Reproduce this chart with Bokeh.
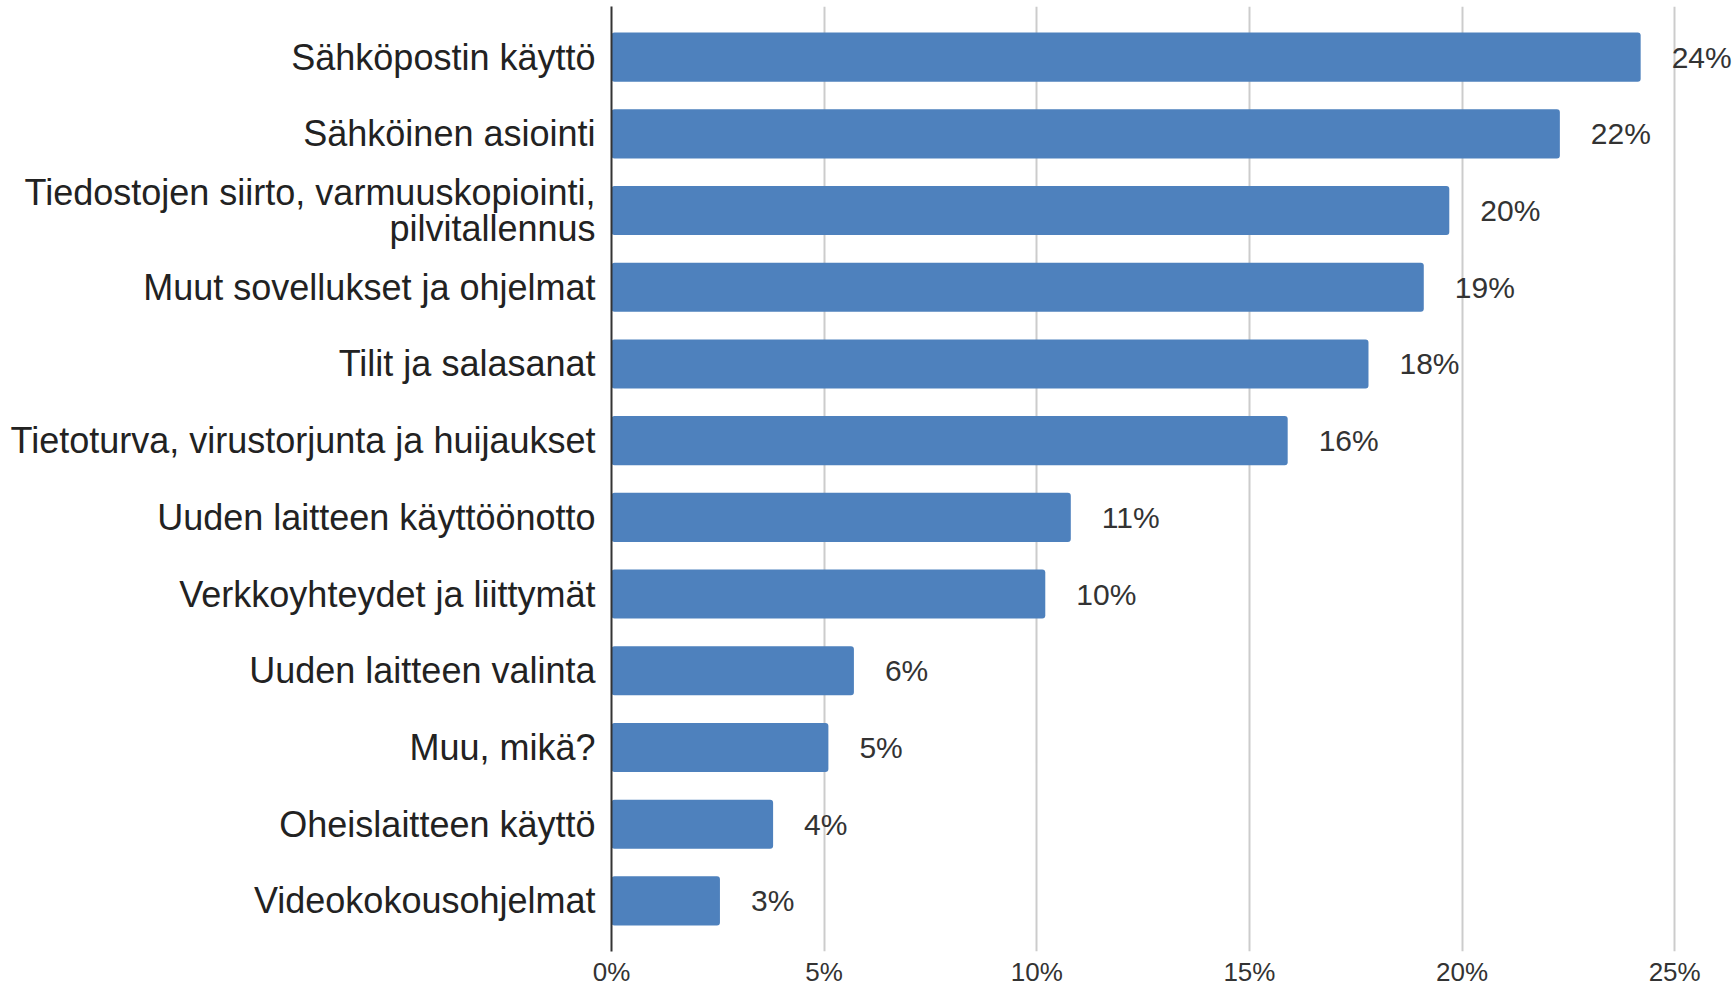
from bokeh.plotting import figure
from bokeh.models import FactorRange, Range1d, FixedTicker, PrintfTickFormatter, ColumnDataSource
from bokeh.core.properties import value
from bokeh.embed import file_html
from bokeh.resources import INLINE

categories = [
    "Sähköpostin käyttö",
    "Sähköinen asiointi",
    "Tiedostojen siirto, varmuuskopiointi,\npilvitallennus",
    "Muut sovellukset ja ohjelmat",
    "Tilit ja salasanat",
    "Tietoturva, virustorjunta ja huijaukset",
    "Uuden laitteen käyttöönotto",
    "Verkkoyhteydet ja liittymät",
    "Uuden laitteen valinta",
    "Muu, mikä?",
    "Oheislaitteen käyttö",
    "Videokokousohjelmat",
]
values = [24.2, 22.3, 19.7, 19.1, 17.8, 15.9, 10.8, 10.2, 5.7, 5.1, 3.8, 2.55]
labels = [f"{int(v + 0.5)}%" for v in values]
x_ticks = [0, 5, 10, 15, 20, 25]

FONT = "Liberation Sans"

src = ColumnDataSource(dict(cat=categories, val=values, lab=labels))

p = figure(
    width=1735, height=989,
    y_range=FactorRange(factors=list(reversed(categories)), range_padding=0.16,
                        range_padding_units="absolute"),
    x_range=Range1d(0, 26.43),
    output_backend="svg", toolbar_location=None,
    min_border_left=611, min_border_right=0, min_border_top=6, min_border_bottom=0,
)
p.outline_line_color = None
p.background_fill_color = "white"

p.hbar(y="cat", right="val", left=0, height=0.64, source=src,
       fill_color="#4e81bd", line_color=None, border_radius=3)

p.text(x="val", y="cat", text="lab", source=src, x_offset=31,
       text_align="left", text_baseline="middle",
       text_font=value(FONT), text_font_size="30px", text_color="#333333")

# grid
p.ygrid.grid_line_color = None
p.xgrid.grid_line_color = "#cccccc"
p.xgrid.grid_line_width = 2
p.xgrid.ticker = FixedTicker(ticks=x_ticks)

# x axis
xa = p.xaxis[0]
xa.ticker = FixedTicker(ticks=x_ticks)
xa.formatter = PrintfTickFormatter(format="%d%%")
xa.axis_line_color = None
xa.major_tick_line_color = None
xa.major_tick_out = 0
xa.major_tick_in = 0
xa.minor_tick_line_color = None
xa.major_label_standoff = 5
xa.major_label_text_font = FONT
xa.major_label_text_font_size = "26px"
xa.major_label_text_color = "#333333"

# y axis
ya = p.yaxis[0]
ya.axis_line_color = "#333333"
ya.axis_line_width = 2
ya.major_tick_line_color = None
ya.major_tick_out = 0
ya.major_tick_in = 0
ya.minor_tick_line_color = None
ya.major_label_standoff = 16
ya.major_label_text_font = FONT
ya.major_label_text_font_size = "36px"
ya.major_label_text_color = "#222222"
ya.major_label_text_line_height = 0.87

open("out.html", "w").write(file_html(p, INLINE))
